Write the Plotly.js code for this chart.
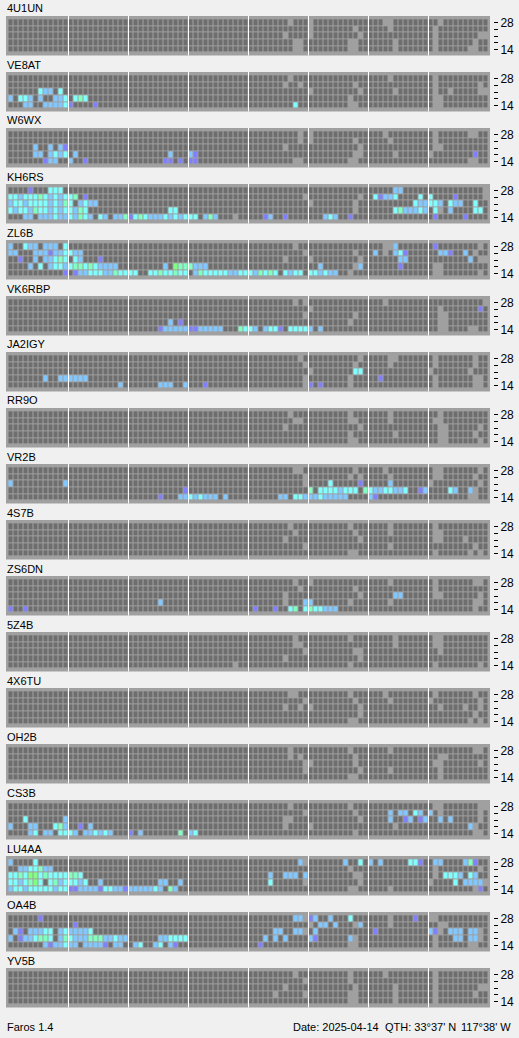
<!DOCTYPE html>
<html><head><meta charset="utf-8">
<script src="https://cdn.plot.ly/plotly-3.0.1.min.js"></script>
<style>html,body{margin:0;padding:0;background:#f0f0f0;}#chart{width:519px;height:1038px;}</style>
</head><body><div id="chart"></div>
<script>
// Beacon stations (one panel each), bands (rows, bottom to top), 96 quarter-hour slots per day
const stations = ['4U1UN','VE8AT','W6WX','KH6RS','ZL6B','VK6RBP','JA2IGY','RR9O','VR2B','4S7B','ZS6DN','5Z4B','4X6TU','OH2B','CS3B','LU4AA','OA4B','YV5B'];
const bands = [14, 18, 21, 24, 28];
const bandTickText = ['14', '', '', '', '28'];
const slots = Array.from({length: 96}, (_, k) => k);
// cell codes: '.' monitored/not heard, '_' no data, c/b/p/m/g = signal levels
const codeValue = {'_': 0, '.': 1, 'c': 2, 'b': 3, 'p': 4, 'm': 5, 'g': 6};
// runs: [bandIndex, firstSlot, codes]
const cells_4U1UN = [[4,56,'_'],[4,60,'_'],[4,75,'__'],[4,86,'_'],[3,60,'_'],[3,69,'_'],[3,76,'_'],[3,85,'_'],
  [2,55,'_'],[2,60,'_'],[2,70,'_'],[2,85,'_'],[2,94,'__'],[1,57,'__'],[1,68,'__'],[1,77,'_'],[1,85,'_'],[1,93,'_'],
  [0,57,'__'],[0,68,'__'],[0,77,'_'],[0,85,'_'],[0,92,'__']];
const cells_VE8AT = [[2,6,'cbb.c'],[1,0,'b.ccb.b..bbc.cmc'],[0,3,'bb..bbbbcp....p'],[0,57,'c'],
  [3,55,'_'],[3,58,'_'],[3,69,'_'],[2,60,'_'],[2,70,'_'],[1,68,'_'],[2,77,'_'],[4,85,'_'],[3,85,'_'],[3,94,'_'],
  [2,85,'_'],[2,88,'_'],[2,94,'__'],[1,85,'__'],[0,85,'__'],[0,68,'__'],[4,56,'_'],[4,76,'_']];
const cells_W6WX = [[2,5,'b..b.bp'],[1,5,'bb.bcbc.b'],[0,7,'pbb..b..p'],[1,32,'b...bp'],[0,31,'pp.p.pp'],[1,93,'p'],
  [4,58,'_'],[3,58,'_'],[2,55,'_'],[4,60,'_'],[3,60,'_'],[3,69,'_'],[2,70,'_'],[1,69,'__'],[0,68,'__'],[4,75,'_'],
  [3,76,'_'],[1,77,'_'],[4,85,'_'],[4,92,'__'],[3,85,'_'],[2,85,'__'],[1,84,'_'],[0,92,'__'],[0,57,'__']];
const cells_KH6RS = [[4,4,'p...ccc'],[4,77,'bb'],
  [3,0,'ccbcccmcbcbccm.p'],[3,73,'cpbbc....c.c....p'],
  [2,0,'bccbccccbcbmc.bcbb'],[2,81,'cbbccb.cbb..c'],
  [1,0,'cbccbmccbcbccbmc'],[1,32,'cc'],[1,77,'cmbbbcb.c..b....cc'],
  [0,3,'bb.bbbcbbcbmcb.cb.bbmpcmcbbbcbcbccc.bmb'],[0,45,'_'],[0,51,'pb..p'],[0,63,'bcb..p'],[0,85,'p'],[0,91,'p'],
  [3,59,'_'],[2,60,'_'],[3,70,'_'],[2,69,'_'],[1,69,'_'],[4,95,'_'],[3,95,'_'],[1,86,'_']];
const cells_ZL6B = [[4,0,'b..cbb.bbb.c'],[4,77,'b'],[4,85,'p'],
  [3,0,'bb...bbbpbbc'],[3,12,'cbb'],[3,73,'b...bcp......bbp..b'],
  [2,2,'p..b.bbcmc.cb...p'],[2,78,'bb'],[2,92,'b'],
  [1,4,'b.c.bccb'],[1,12,'cmmcmcbbbb'],[1,31,'b.gmmmbbb'],[1,62,'b'],[1,70,'b'],[1,78,'p'],
  [0,11,'p.pbbcccbbmcc'],[0,24,'cc..ccmccmcc'],[0,36,'.bmcccccbbcc'],[0,48,'cbmcmc.cbcc.'],[0,60,'ccbcbb.._'],
  [4,57,'_'],[3,59,'_'],[2,55,'_'],[2,60,'_'],[3,69,'_'],[2,70,'_'],[1,69,'_'],[4,75,'__'],[3,75,'_'],
  [4,94,'_'],[3,93,'_'],[2,94,'__'],[1,85,'__'],[0,85,'__'],[0,94,'_']];
const cells_VK6RBP = [[1,32,'b.p'],[0,30,'pbbbbb'],[0,36,'ppbbbbb...mc'],[0,48,'cb.bccp.cccc'],[0,60,'b.b'],[3,94,'p'],
  [4,57,'_'],[4,59,'_'],[3,60,'_'],[2,59,'_'],[2,69,'_'],[1,68,'_'],[4,75,'_'],[3,86,'_'],[2,86,'__'],[1,86,'__'],
  [0,86,'__'],[0,92,'__'],[4,95,'_']];
const cells_JA2IGY = [[1,7,'b..bbbbbb'],[0,22,'b'],[0,30,'bbb..b...p'],[0,60,'p.p'],[2,69,'cc'],[1,74,'p'],[1,94,'b'],
  [4,58,'_'],[3,59,'_'],[2,60,'_'],[1,59,'_'],[0,59,'_'],[3,69,'_'],[4,70,'_'],[1,68,'_'],[0,68,'_'],[4,76,'__'],
  [3,76,'_'],[4,85,'_'],[3,85,'_'],[2,84,'_'],[1,85,'_'],[0,85,'_'],[4,93,'_'],[3,93,'_'],[2,92,'_'],[1,93,'__'],[0,93,'__']];
const cells_RR9O = [[4,56,'_'],[3,57,'__'],[2,55,'_'],[4,68,'_'],[3,68,'__'],[2,70,'_'],[1,68,'_'],[0,68,'__'],
  [4,76,'_'],[3,76,'_'],[1,77,'_'],[4,86,'_'],[3,85,'__'],[2,86,'__'],[1,86,'__'],[0,86,'__'],[2,94,'_'],[1,93,'_'],[0,94,'_']];
const cells_VR2B = [[2,0,'b'],[2,11,'b'],[2,64,'c'],[2,70,'p'],[2,76,'b'],
  [1,35,'p'],[1,60,'m.ccccbccc.mcbbccbbc..pb....cb..b'],
  [0,30,'p...bbcbcbbb.b'],[0,54,'bb.ccbbbcbbbbb'],[0,72,'bp'],
  [4,57,'__'],[3,59,'_'],[2,59,'_'],[4,69,'_'],[3,68,'_'],[3,70,'_'],[4,75,'_'],[3,76,'_'],[4,85,'__'],[3,85,'__'],
  [2,84,'_'],[4,94,'_'],[3,93,'_'],[2,94,'_'],[1,93,'_'],[0,92,'__']];
const cells_4S7B = [[4,56,'_'],[3,57,'_'],[2,55,'_'],[1,59,'_'],[4,68,'_'],[3,69,'_'],[2,70,'_'],[0,68,'__'],[4,76,'_'],
  [3,76,'_'],[1,76,'_'],[4,85,'_'],[3,85,'__'],[2,85,'__'],[2,91,'_'],[1,93,'_'],[0,85,'_'],[0,92,'_'],[0,94,'_']];
const cells_ZS6DN = [[1,30,'b'],[1,59,'bb'],[0,0,'p..p'],[0,49,'p...p..cm.cmccbbb'],[2,77,'bb'],
  [4,57,'_'],[3,58,'_'],[2,55,'_'],[1,55,'_'],[4,60,'_'],[3,69,'_'],[2,70,'_'],[1,68,'_'],[4,76,'_'],[1,76,'_'],
  [4,85,'_'],[4,93,'__'],[3,85,'_'],[2,85,'__'],[2,94,'_'],[1,93,'__'],[0,93,'_']];
const cells_5Z4B = [[4,57,'_'],[3,57,'__'],[2,59,'_'],[1,55,'_'],[0,45,'_'],[4,68,'_'],[2,69,'__'],[1,70,'_'],[0,68,'_'],
  [4,77,'_'],[3,77,'_'],[4,85,'__'],[3,85,'__'],[2,86,'_'],[0,85,'_'],[0,94,'_']];
const cells_4X6TU = [[4,56,'__'],[3,59,'_'],[2,55,'_'],[2,58,'_'],[2,60,'_'],[4,68,'_'],[3,69,'_'],[2,70,'_'],[1,70,'_'],
  [0,68,'__'],[4,75,'_'],[3,76,'_'],[4,85,'_'],[3,84,'_'],[2,86,'_'],[2,91,'_'],[1,93,'_'],[0,92,'_'],[0,94,'_'],
  [4,93,'_'],[3,94,'_'],[2,94,'_']];
const cells_OH2B = [[4,56,'_'],[3,56,'_'],[3,58,'_'],[2,59,'_'],[2,60,'_'],[1,59,'_'],[4,68,'_'],[3,69,'_'],[2,69,'_'],
  [1,70,'_'],[0,68,'__'],[4,76,'_'],[1,76,'_'],[3,86,'__'],[2,85,'__'],[1,86,'_'],[0,86,'_'],[4,93,'__'],[2,94,'_']];
const cells_CS3B = [[2,3,'c.......b'],[1,0,'b...bb...cmb..p.b'],[0,4,'bc.bb.cccb.bbcbcb'],[0,24,'p.b'],[0,34,'m.bc'],
  [3,76,'b.bb.cb.b.b'],[2,76,'b..pb.pb..b.b'],[1,92,'b'],
  [4,56,'_'],[3,59,'_'],[2,55,'__'],[1,55,'_'],[1,60,'_'],[4,68,'_'],[3,69,'_'],[2,70,'_'],[0,69,'_'],[4,85,'__'],
  [3,86,'_'],[1,77,'_'],[4,94,'__'],[3,94,'_'],[2,94,'_'],[1,93,'_'],[0,93,'__']];
const cells_LU4AA = [[4,0,'b....c'],[4,58,'b'],[4,67,'b..c'],[4,72,'b.b.....ccp..bb....bmp'],
  [3,2,'bbccmbb'],
  [2,0,'ccmcggcmccccmmc'],[2,52,'b..bbb.b'],[2,87,'cccb.cb'],
  [1,0,'ccbcmgc.cmbcccbc..b'],[1,30,'bb..b'],[1,52,'c'],[1,89,'c.bbbb'],
  [0,0,'bccbcccccbcc'],[0,12,'ppbbbbpccbbp'],[0,24,'bbbbbcb.mb'],[0,94,'p'],
  [3,68,'_'],[2,69,'__'],[1,70,'_'],[0,68,'__'],[4,59,'_'],[1,59,'_'],[3,85,'_'],[2,85,'_'],[1,84,'_'],[3,94,'_'],
  [0,93,'_'],[1,95,'_'],[0,76,'_']];
const cells_OA4B = [[4,6,'p'],[4,57,'bb.pb..b...c'],[4,81,'p'],
  [3,13,'p'],[3,62,'bb.b....b'],
  [2,1,'bp.bbbcc.bc'],[2,12,'bbbbc'],[2,53,'bb..bb..b'],[2,73,'p'],[2,84,'bp..bbb.bb'],
  [1,0,'b.pbbcmmc.bm'],[1,12,'cbbbmmmbbcbb'],[1,30,'bbcccc'],[1,51,'b.b.b....bp'],[1,68,'b'],[1,89,'bb.bb'],
  [0,7,'bpbbc'],[0,12,'bb.bbbbp.bb'],[0,25,'bc..bc.bp'],[0,50,'p'],
  [4,59,'_'],[3,60,'_'],[2,59,'_'],[3,69,'_'],[1,69,'_'],[0,68,'__'],[4,76,'_'],[3,76,'_'],[4,84,'__'],[3,86,'__'],
  [2,86,'_'],[1,85,'_'],[0,85,'_'],[2,94,'_'],[1,94,'_'],[0,92,'__']];
const cells_YV5B = [[4,57,'_'],[3,59,'_'],[2,55,'_'],[1,53,'_'],[1,59,'_'],[4,68,'_'],[3,68,'_'],[2,69,'_'],[1,68,'__'],
  [0,68,'__'],[4,75,'_'],[2,77,'_'],[1,77,'_'],[0,77,'_'],[4,85,'_'],[3,85,'_'],[2,85,'_'],[1,85,'_'],[0,85,'_'],
  [2,94,'__'],[1,93,'_']];
const cellsByStation = [cells_4U1UN, cells_VE8AT, cells_W6WX, cells_KH6RS, cells_ZL6B, cells_VK6RBP, cells_JA2IGY,
  cells_RR9O, cells_VR2B, cells_4S7B, cells_ZS6DN, cells_5Z4B, cells_4X6TU, cells_OH2B, cells_CS3B, cells_LU4AA,
  cells_OA4B, cells_YV5B];
const footerLeft = 'Faros 1.4';
const footerDate = 'Date: 2025-04-14';
const footerQth = "QTH: 33°37' N";
const footerLon = "117°38' W";

// ---- drawing ----
const W = 519, H = 1038;
const plotLeft = 6, plotRight = 490, firstTop = 16, panelPitch = 56, frameH = 39.5;
const palette = ['#a0a0a0', '#6e6e6e', '#80ffff', '#80c8ff', '#8080ff', '#80ffc0', '#80ff80'];
const colorscale = [];
palette.forEach((col, k) => { colorscale.push([k / palette.length, col]); colorscale.push([(k + 1) / palette.length, col]); });
const FONT = 'Liberation Sans, Arial, sans-serif';

const traces = [], shapes = [], annotations = [];
const layout = {
  width: W, height: H, margin: {l: 0, r: 0, t: 0, b: 0},
  paper_bgcolor: '#f0f0f0', plot_bgcolor: '#a0a0a0', showlegend: false,
  font: {family: FONT, size: 11, color: '#000'},
  xaxis: {domain: [plotLeft / W, plotRight / W], range: [-1, 95.8], showgrid: false, zeroline: false,
    showticklabels: false, ticks: '', showline: false, fixedrange: true, anchor: 'y'}
};

stations.forEach((name, i) => {
  const rows = bands.map(() => Array(slots.length).fill('.'));
  cellsByStation[i].forEach(([r, c, s]) => { for (let k = 0; k < s.length; k++) rows[r][c + k] = s[k]; });
  const z = rows.map(row => row.map(ch => codeValue[ch]));
  const yName = i === 0 ? 'y' : 'y' + (i + 1);
  const axKey = i === 0 ? 'yaxis' : 'yaxis' + (i + 1);
  traces.push({type: 'heatmap', x: slots, y: bands.map((b, k) => k), z: z, xaxis: 'x', yaxis: yName,
    colorscale: colorscale, zmin: -0.5, zmax: palette.length - 0.5, showscale: false, xgap: 1, ygap: 1, hoverinfo: 'skip'});
  const top = firstTop + panelPitch * i;
  layout[axKey] = {domain: [1 - (top + frameH) / H, 1 - top / H], range: [-0.92, 5.0], anchor: 'free',
    position: 493 / W, side: 'right', tickvals: bands.map((b, k) => k), ticktext: bandTickText, ticks: 'outside',
    ticklen: 4, tickwidth: 1, tickcolor: '#000', showgrid: false, zeroline: false, showline: false, fixedrange: true,
    tickfont: {family: FONT, size: 12, color: '#000'}};
  for (let h = 1; h < 8; h++) {
    shapes.push({type: 'line', xref: 'x', yref: yName + ' domain', x0: h * 12 - 0.5, x1: h * 12 - 0.5, y0: 0, y1: 1,
      line: {color: '#ffffff', width: 1}, layer: 'above'});
  }
  annotations.push({text: name, xref: 'paper', yref: 'paper', x: plotLeft / W, y: 1 - (top - 0.5) / H,
    xanchor: 'left', yanchor: 'bottom', showarrow: false, borderpad: 0, font: {family: FONT, size: 11, color: '#000'}});
});

const footY = 1 - 1034 / H;
annotations.push({text: footerLeft, xref: 'paper', yref: 'paper', x: 6 / W, y: footY, xanchor: 'left', yanchor: 'bottom', showarrow: false, borderpad: 0});
annotations.push({text: footerDate, xref: 'paper', yref: 'paper', x: 292 / W, y: footY, xanchor: 'left', yanchor: 'bottom', showarrow: false, borderpad: 0});
annotations.push({text: footerQth, xref: 'paper', yref: 'paper', x: 457 / W, y: footY, xanchor: 'right', yanchor: 'bottom', showarrow: false, borderpad: 0});
annotations.push({text: footerLon, xref: 'paper', yref: 'paper', x: 512 / W, y: footY, xanchor: 'right', yanchor: 'bottom', showarrow: false, borderpad: 0});

layout.shapes = shapes;
layout.annotations = annotations;
Plotly.newPlot('chart', traces, layout, {staticPlot: true, displayModeBar: false});
</script>
</body></html>
